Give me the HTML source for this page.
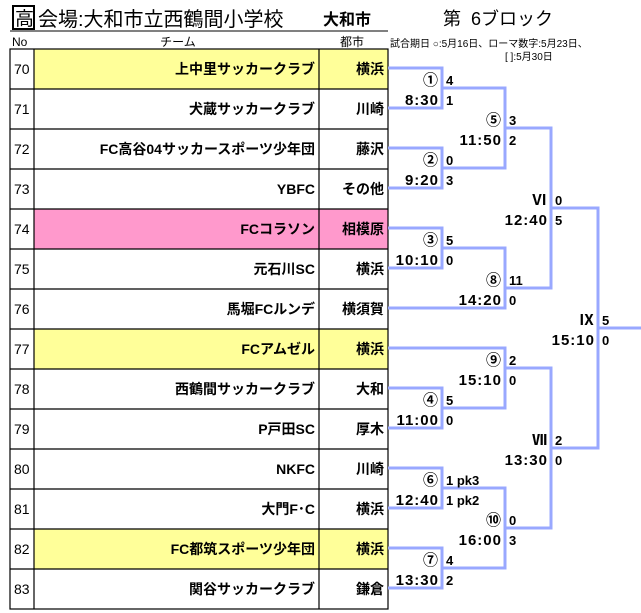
<!DOCTYPE html>
<html><head><meta charset="utf-8"><style>
body{margin:0;background:#fff;width:641px;height:613px;overflow:hidden}
svg{display:block}
text{font-family:"Liberation Sans","Noto Sans CJK JP",sans-serif}
.t{font-size:14px;font-weight:bold;text-anchor:end}
.n{font-size:14px}
.m{font-family:"Liberation Mono","Noto Sans CJK JP",monospace;font-size:15px;font-weight:bold;text-anchor:end;letter-spacing:1px}
.s{font-size:13px;font-weight:bold}
</style></head><body>
<svg width="641" height="613" xmlns="http://www.w3.org/2000/svg">
<rect x="13" y="6" width="21" height="23" fill="none" stroke="#000" stroke-width="2"/>
<text x="15" y="25" font-size="19">高</text>
<text x="38" y="26" font-size="20">会場:大和市立西鶴間小学校</text>
<text x="323" y="25" font-size="16" font-weight="bold">大和市</text>
<line x1="10" y1="31" x2="388" y2="31" stroke="#000"/>
<text x="443" y="25" font-size="18" xml:space="preserve">第  6ブロック</text>
<text x="12" y="46" font-size="12">No</text>
<text x="178" y="46" font-size="12" text-anchor="middle">チーム</text>
<text x="352" y="46" font-size="12" text-anchor="middle">都市</text>
<text x="390" y="47" font-size="10">試合期日 ○:5月16日、ローマ数字:5月23日、</text>
<text x="505" y="60" font-size="10">[ ]:5月30日</text>
<g id="rows">
<rect x="34" y="49" width="354" height="40" fill="#ffff99"/>
<rect x="34" y="209" width="354" height="40" fill="#ff99cc"/>
<rect x="34" y="329" width="354" height="40" fill="#ffff99"/>
<rect x="34" y="529" width="354" height="40" fill="#ffff99"/>
<g stroke="#000" stroke-width="1.2" fill="none">
<rect x="10" y="49" width="378" height="560"/>
<line x1="34" y1="49" x2="34" y2="609"/><line x1="319" y1="49" x2="319" y2="609"/>
<line x1="10" y1="89" x2="388" y2="89"/><line x1="10" y1="129" x2="388" y2="129"/>
<line x1="10" y1="169" x2="388" y2="169"/><line x1="10" y1="209" x2="388" y2="209"/>
<line x1="10" y1="249" x2="388" y2="249"/><line x1="10" y1="289" x2="388" y2="289"/>
<line x1="10" y1="329" x2="388" y2="329"/><line x1="10" y1="369" x2="388" y2="369"/>
<line x1="10" y1="409" x2="388" y2="409"/><line x1="10" y1="449" x2="388" y2="449"/>
<line x1="10" y1="489" x2="388" y2="489"/><line x1="10" y1="529" x2="388" y2="529"/>
<line x1="10" y1="569" x2="388" y2="569"/>
</g>
</g>
<g class="n">
<text x="14" y="74">70</text><text x="14" y="114">71</text><text x="14" y="154">72</text><text x="14" y="194">73</text>
<text x="14" y="234">74</text><text x="14" y="274">75</text><text x="14" y="314">76</text><text x="14" y="354">77</text>
<text x="14" y="394">78</text><text x="14" y="434">79</text><text x="14" y="474">80</text><text x="14" y="514">81</text>
<text x="14" y="554">82</text><text x="14" y="594">83</text>
</g>
<g class="t">
<text x="315" y="74">上中里サッカークラブ</text><text x="384" y="74">横浜</text>
<text x="315" y="114">犬蔵サッカークラブ</text><text x="384" y="114">川崎</text>
<text x="315" y="154">FC高谷04サッカースポーツ少年団</text><text x="384" y="154">藤沢</text>
<text x="315" y="194">YBFC</text><text x="384" y="194">その他</text>
<text x="315" y="234">FCコラソン</text><text x="384" y="234">相模原</text>
<text x="315" y="274">元石川SC</text><text x="384" y="274">横浜</text>
<text x="315" y="314">馬堀FCルンデ</text><text x="384" y="314">横須賀</text>
<text x="315" y="354">FCアムゼル</text><text x="384" y="354">横浜</text>
<text x="315" y="394">西鶴間サッカークラブ</text><text x="384" y="394">大和</text>
<text x="315" y="434">P戸田SC</text><text x="384" y="434">厚木</text>
<text x="315" y="474">NKFC</text><text x="384" y="474">川崎</text>
<text x="315" y="514">大門F･C</text><text x="384" y="514">横浜</text>
<text x="315" y="554">FC都筑スポーツ少年団</text><text x="384" y="554">横浜</text>
<text x="315" y="594">関谷サッカークラブ</text><text x="384" y="594">鎌倉</text>
</g>
<g stroke="#99a8ff" stroke-width="3" fill="none">
<polyline points="388,68 442,68 442,108 388,108"/>
<polyline points="388,148 442,148 442,188 388,188"/>
<polyline points="388,228 442,228 442,268 388,268"/>
<polyline points="388,388 442,388 442,428 388,428"/>
<polyline points="388,468 442,468 442,508 388,508"/>
<polyline points="388,548 442,548 442,588 388,588"/>
<polyline points="442,88 505,88 505,168 442,168"/>
<polyline points="442,248 505,248 505,308 388,308"/>
<polyline points="388,348 505,348 505,408 442,408"/>
<polyline points="442,488 505,488 505,568 442,568"/>
<polyline points="505,128 551,128 551,288 505,288"/>
<polyline points="505,368 551,368 551,528 505,528"/>
<polyline points="551,208 598,208 598,448 551,448"/>
<line x1="598" y1="328" x2="641" y2="328"/>
</g>
<g class="m">
<text x="439" y="85">①</text><text x="439" y="105">8:30</text>
<text x="439" y="165">②</text><text x="439" y="185">9:20</text>
<text x="439" y="245">③</text><text x="439" y="265">10:10</text>
<text x="439" y="405">④</text><text x="439" y="425">11:00</text>
<text x="439" y="485">⑥</text><text x="439" y="505">12:40</text>
<text x="439" y="565">⑦</text><text x="439" y="585">13:30</text>
<text x="502" y="125">⑤</text><text x="502" y="145">11:50</text>
<text x="502" y="285">⑧</text><text x="502" y="305">14:20</text>
<text x="502" y="365">⑨</text><text x="502" y="385">15:10</text>
<text x="502" y="525">⑩</text><text x="502" y="545">16:00</text>
<text x="548" y="205">Ⅵ</text><text x="548" y="225">12:40</text>
<text x="548" y="445">Ⅶ</text><text x="548" y="465">13:30</text>
<text x="595" y="325">Ⅸ</text><text x="595" y="345">15:10</text>
</g>
<g class="s">
<text x="446" y="85">4</text><text x="446" y="105">1</text>
<text x="446" y="165">0</text><text x="446" y="185">3</text>
<text x="446" y="245">5</text><text x="446" y="265">0</text>
<text x="446" y="405">5</text><text x="446" y="425">0</text>
<text x="446" y="485">1 pk3</text><text x="446" y="505">1 pk2</text>
<text x="446" y="565">4</text><text x="446" y="585">2</text>
<text x="509" y="125">3</text><text x="509" y="145">2</text>
<text x="509" y="285">11</text><text x="509" y="305">0</text>
<text x="509" y="365">2</text><text x="509" y="385">0</text>
<text x="509" y="525">0</text><text x="509" y="545">3</text>
<text x="555" y="205">0</text><text x="555" y="225">5</text>
<text x="555" y="445">2</text><text x="555" y="465">0</text>
<text x="602" y="325">5</text><text x="602" y="345">0</text>
</g>
</svg>
</body></html>
